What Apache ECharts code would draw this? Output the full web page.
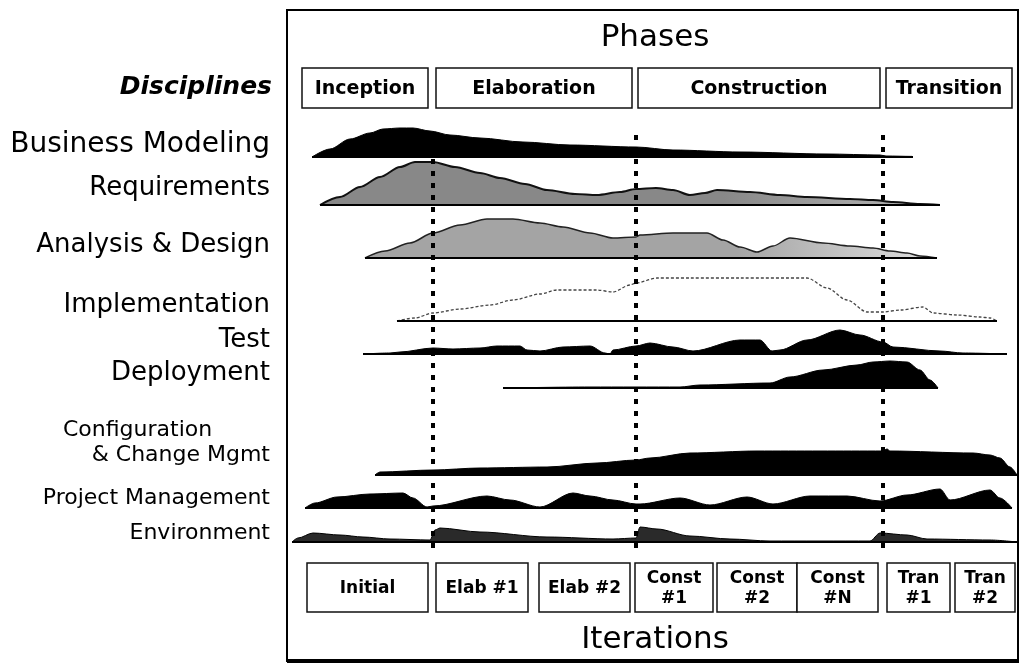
<!DOCTYPE html>
<html>
<head>
<meta charset="utf-8">
<title>RUP hump chart</title>
<script src="https://cdn.jsdelivr.net/npm/echarts@6/dist/echarts.min.js"></script>
<style>
  html, body { margin: 0; padding: 0; background: #fff; }
  #chart { width: 1023px; height: 670px; }
</style>
</head>
<body>
<div id="chart"></div>
<script>
// timeline runs 0..730 across the frame
var phaseNames = ['Inception', 'Elaboration', 'Construction', 'Transition'];
var phaseSpans = [[12, 138], [146, 342], [348, 590], [596, 722]];
var phaseBounds = [143, 346, 593];

var iterationNames = ['Initial', 'Elab #1', 'Elab #2', 'Const\n#1', 'Const\n#2', 'Const\n#N', 'Tran\n#1', 'Tran\n#2'];
var iterationSpans = [[17, 138], [146, 238], [249, 340], [345, 423], [427, 507], [507, 588], [597, 660], [665, 725]];

var disciplineNames = ['Business Modeling', 'Requirements', 'Analysis & Design', 'Implementation', 'Test',
  'Deployment', 'Configuration\n& Change Mgmt', 'Project Management', 'Environment'];

// effort humps: [time, effort]
var businessModeling = [[22, 0], [40, 8], [60, 18], [80, 24], [93, 28], [110, 29], [123, 29], [140, 26], [160, 22],
  [190, 19], [233, 15], [280, 12], [346, 10], [383, 7], [450, 5], [537, 3], [590, 2], [596, 1], [622, 0.6], [623, 0]];
var requirements = [[30, 0], [50, 8], [70, 18], [90, 28], [110, 38], [125, 43], [143, 43], [165, 38], [190, 32],
  [210, 27], [235, 21], [257, 15], [285, 11], [307, 10], [330, 13], [346, 16], [366, 17], [383, 15], [400, 10],
  [415, 12], [427, 15], [460, 13], [490, 10], [517, 8], [560, 6], [583, 5], [603, 3], [630, 1], [650, 0]];
var analysisDesign = [[75, 0], [95, 7], [120, 15], [143, 25], [170, 33], [197, 39], [223, 39], [250, 35], [273, 31],
  [300, 25], [323, 20], [346, 21], [350, 23], [383, 25], [417, 25], [433, 18], [450, 11], [467, 6], [483, 12],
  [500, 20], [533, 15], [560, 12], [583, 10], [600, 7], [617, 5], [630, 2], [647, 0]];
var implementation = [[107, 0], [125, 3], [143, 8], [170, 12], [200, 16], [223, 21], [250, 27], [267, 31], [307, 31],
  [323, 29], [340, 36], [346, 38], [367, 43], [400, 43], [450, 43], [517, 43], [537, 33], [557, 21], [577, 9],
  [593, 9], [610, 11], [633, 14], [643, 8], [667, 6], [690, 4], [700, 3], [707, 0]];
var test = [[73, 0], [100, 1], [110, 2], [143, 6], [163, 5], [190, 6], [207, 8], [230, 8], [237, 4], [250, 3],
  [273, 7], [300, 8], [315, 1], [320, 0], [323, 4], [346, 8], [360, 11], [383, 7], [403, 3], [450, 14], [470, 14],
  [482, 3], [490, 4], [517, 14], [550, 24], [570, 19], [593, 12], [603, 7], [650, 3], [673, 1], [717, 0]];
var deployment = [[213, 0], [300, 1], [390, 1], [410, 3], [480, 5], [500, 11], [533, 18], [567, 23], [583, 26],
  [600, 27], [617, 26], [630, 18], [640, 8], [648, 0]];
var configChange = [[85, 0], [90, 3], [143, 5], [190, 7], [257, 8], [307, 12], [346, 15], [360, 17], [400, 22],
  [467, 24], [530, 24], [593, 24], [597, 26], [600, 24], [683, 22], [700, 20], [710, 17], [720, 8], [727, 0]];
var projectMgmt = [[15, 0], [25, 5], [47, 11], [80, 14], [113, 15], [123, 10], [137, 1], [143, 2], [197, 12],
  [220, 8], [250, 1], [283, 15], [300, 12], [323, 8], [346, 4], [350, 4], [390, 10], [420, 3], [457, 11], [483, 4],
  [520, 12], [557, 12], [590, 7], [617, 13], [650, 19], [660, 8], [700, 18], [710, 10], [722, 0]];
var environment = [[2, 0], [8, 4], [23, 9], [50, 7], [73, 5], [100, 3], [140, 2], [145, 12], [150, 14], [190, 10],
  [257, 5], [323, 3], [346, 4], [350, 15], [367, 13], [400, 6], [440, 3], [480, 1], [580, 1], [590, 9], [617, 7],
  [637, 3], [700, 2], [727, 0]];

var humps = [businessModeling, requirements, analysisDesign, implementation, test, deployment, configChange, projectMgmt, environment];

// layout
var FONT = "'DejaVu Sans', Verdana, sans-serif";
var baselines = [157, 205, 258, 321, 354, 388, 475, 508, 542];
var labelY = [145, 188, 245, 305, 340, 373, 443, 498, 533];
var labelSize = [28, 26, 26, 26, 26, 26, 22, 22, 22];

function fillFade(a, b) {
  return { type: 'linear', x: 0, y: 0, x2: 1, y2: 0, colorStops: [
    { offset: 0, color: a }, { offset: 0.65, color: a }, { offset: 1, color: b }] };
}
var humpStyles = [
  { fill: '#000', line: '#000', w: 1 },
  { fill: fillFade('#888', '#b8b8b8'), line: '#111', w: 2 },
  { fill: fillFade('#a4a4a4', '#e0e0e0'), line: '#222', w: 1.5 },
  { fill: '#fff', line: '#444', w: 1.3, dash: [3, 2] },
  { fill: '#000', line: '#000', w: 1 },
  { fill: '#000', line: '#000', w: 1 },
  { fill: '#000', line: '#000', w: 1 },
  { fill: '#000', line: '#000', w: 1 },
  { fill: '#2a2a2a', line: '#000', w: 1 }
];

var grids = [
  { left: 290, width: 730, top: 68, height: 40 },   // phases
  { left: 290, width: 730, top: 563, height: 49 },  // iterations
  { left: 290, width: 730, top: 133, height: 415 }  // phase boundaries
];
var xAxes = [], yAxes = [];
baselines.forEach(function (b) {
  grids.push({ left: 290, width: 730, top: b - 50, height: 50 });
});
grids.forEach(function (g, i) {
  xAxes.push({ gridIndex: i, type: 'value', min: 0, max: 730, show: false });
  yAxes.push({ gridIndex: i, type: 'value', min: 0, max: i < 3 ? 1 : 50, show: false });
});

function boxSeries(idx, names, spans, fontSize, lineH) {
  return {
    type: 'custom',
    xAxisIndex: idx, yAxisIndex: idx,
    data: spans.map(function (s, i) { return [s[0], s[1], i]; }),
    renderItem: function (params, api) {
      var p0 = api.coord([api.value(0), 1]);
      var p1 = api.coord([api.value(1), 0]);
      return {
        type: 'group',
        children: [{
          type: 'rect',
          shape: { x: p0[0], y: p0[1], width: p1[0] - p0[0], height: p1[1] - p0[1] },
          style: { fill: '#fff', stroke: '#111', lineWidth: 1.5 }
        }, {
          type: 'text',
          style: {
            text: names[api.value(2)], x: (p0[0] + p1[0]) / 2, y: (p0[1] + p1[1]) / 2 + 1,
            align: 'center', verticalAlign: 'middle', textAlign: 'center', textVerticalAlign: 'middle',
            font: 'bold ' + fontSize + 'px ' + FONT, lineHeight: lineH, fill: '#000'
          }
        }]
      };
    }
  };
}

var series = [
  boxSeries(0, phaseNames, phaseSpans, 19, 22),
  boxSeries(1, iterationNames, iterationSpans, 17, 20)
];

humps.forEach(function (d, i) {
  var st = humpStyles[i];
  series.push({
    type: 'line', xAxisIndex: i + 3, yAxisIndex: i + 3,
    data: d, smooth: 0.3, smoothMonotone: 'x', symbol: 'none', silent: true,
    lineStyle: { color: st.line, width: st.w, type: st.dash || 'solid' },
    areaStyle: { color: st.fill, opacity: 1 },
    z: 2
  });
  series.push({
    type: 'line', xAxisIndex: i + 3, yAxisIndex: i + 3,
    data: [[d[0][0], 0], [d[d.length - 1][0], 0]], symbol: 'none', silent: true,
    lineStyle: { color: '#000', width: 2 }, z: 3
  });
});

series.push({
  type: 'line', xAxisIndex: 2, yAxisIndex: 2, data: [], z: 5,
  markLine: {
    symbol: 'none', silent: true, label: { show: false },
    lineStyle: { color: '#000', type: [5, 7], width: 4 },
    data: phaseBounds.map(function (v) { return { xAxis: v }; })
  }
});

var graphics = [
  { type: 'rect', shape: { x: 287, y: 10, width: 731, height: 651 }, style: { fill: 'none', stroke: '#000', lineWidth: 2 }, z: 10 },
  { type: 'line', shape: { x1: 287, y1: 661, x2: 1019, y2: 661 }, style: { stroke: '#000', lineWidth: 4 }, z: 10 },
  { type: 'text', x: 272, y: 87, style: { text: 'Disciplines', font: 'italic bold 25px ' + FONT, fill: '#000',
    align: 'right', verticalAlign: 'middle', textAlign: 'right', textVerticalAlign: 'middle' } }
];
disciplineNames.forEach(function (name, i) {
  if (name.indexOf('\n') > -1) {
    var parts = name.split('\n');
    graphics.push({ type: 'text', x: 63, y: labelY[i] - 13, style: { text: parts[0], font: labelSize[i] + 'px ' + FONT,
      fill: '#000', align: 'left', verticalAlign: 'middle', textAlign: 'left', textVerticalAlign: 'middle' } });
    graphics.push({ type: 'text', x: 270, y: labelY[i] + 12, style: { text: parts[1], font: labelSize[i] + 'px ' + FONT,
      fill: '#000', align: 'right', verticalAlign: 'middle', textAlign: 'right', textVerticalAlign: 'middle' } });
  } else {
    graphics.push({ type: 'text', x: 270, y: labelY[i], style: { text: name, font: labelSize[i] + 'px ' + FONT,
      fill: '#000', align: 'right', verticalAlign: 'middle', textAlign: 'right', textVerticalAlign: 'middle' } });
  }
});

var chart = echarts.init(document.getElementById('chart'));
chart.setOption({
  backgroundColor: '#fff',
  animation: false,
  title: [
    { text: 'Phases', left: 655, top: 22, textAlign: 'center', padding: 0,
      textStyle: { fontFamily: FONT, fontSize: 31, fontWeight: 'normal', color: '#000' } },
    { text: 'Iterations', left: 655, top: 624, textAlign: 'center', padding: 0,
      textStyle: { fontFamily: FONT, fontSize: 31, fontWeight: 'normal', color: '#000' } }
  ],
  grid: grids,
  xAxis: xAxes,
  yAxis: yAxes,
  graphic: graphics,
  series: series
});
</script>
</body>
</html>
